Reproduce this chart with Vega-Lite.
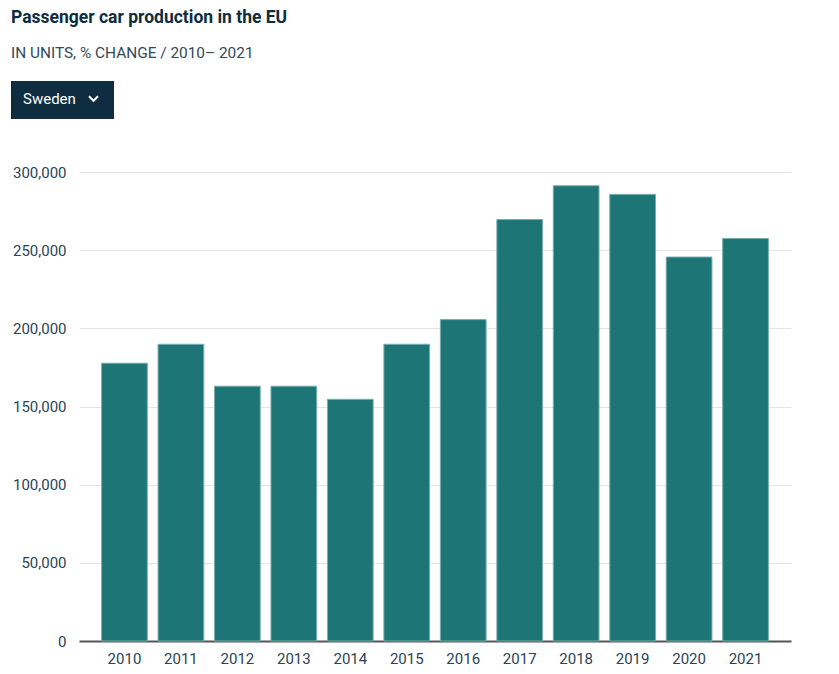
{
  "$schema": "https://vega.github.io/schema/vega-lite/v6.json",
  "width": 712,
  "height": 469,
  "autosize": {"type": "none"},
  "padding": {"left": 79, "top": 172, "right": 48, "bottom": 33},
  "background": "white",
  "config": {"view": {"stroke": null}},
  "title": {
    "text": "Passenger car production in the EU",
    "subtitle": "IN UNITS, % CHANGE / 2010– 2021",
    "anchor": "start",
    "frame": "bounds",
    "font": "Roboto",
    "fontSize": 17.5,
    "fontWeight": "bold",
    "color": "#0c2d40",
    "subtitleFont": "Roboto",
    "subtitleFontSize": 15.4,
    "subtitleColor": "#34495a",
    "subtitlePadding": 19,
    "offset": 20
  },
  "data": {
    "values": [
      {"year": "2010", "country": "Sweden", "units": 177700},
      {"year": "2011", "country": "Sweden", "units": 189800},
      {"year": "2012", "country": "Sweden", "units": 163000},
      {"year": "2013", "country": "Sweden", "units": 163000},
      {"year": "2014", "country": "Sweden", "units": 154600},
      {"year": "2015", "country": "Sweden", "units": 189800},
      {"year": "2016", "country": "Sweden", "units": 205600},
      {"year": "2017", "country": "Sweden", "units": 269600},
      {"year": "2018", "country": "Sweden", "units": 291200},
      {"year": "2019", "country": "Sweden", "units": 285700},
      {"year": "2020", "country": "Sweden", "units": 245600},
      {"year": "2021", "country": "Sweden", "units": 257500}
    ]
  },
  "mark": {"type": "bar", "stroke": "#7aaeae", "strokeWidth": 1},
  "encoding": {
    "x": {
      "field": "year",
      "type": "ordinal",
      "scale": {"paddingInner": 0.19, "paddingOuter": 0.4},
      "axis": {
        "title": null,
        "labelAngle": 0,
        "ticks": false,
        "domain": true,
        "domainColor": "#555555",
        "domainWidth": 2,
        "labelPadding": 10,
        "labelFont": "Roboto",
        "labelFontSize": 15,
        "labelColor": "#2b4456"
      }
    },
    "y": {
      "field": "units",
      "type": "quantitative",
      "scale": {"domain": [0, 300000], "nice": false},
      "axis": {
        "title": null,
        "values": [0, 50000, 100000, 150000, 200000, 250000, 300000],
        "format": ",d",
        "domain": false,
        "ticks": false,
        "grid": true,
        "gridColor": "#e5e5e5",
        "gridWidth": 1,
        "labelPadding": 13,
        "labelFont": "Roboto",
        "labelFontSize": 15,
        "labelColor": "#2b4456"
      }
    },
    "color": {
      "field": "country",
      "type": "nominal",
      "scale": {"range": ["#1d7575"]},
      "legend": {
        "orient": "none",
        "legendX": -68,
        "legendY": -91,
        "fillColor": "#0e2d40",
        "padding": 12,
        "title": "Sweden",
        "titleOrient": "left",
        "titleColor": "#ffffff",
        "titleFont": "Roboto",
        "titleFontSize": 15,
        "titleFontWeight": "normal",
        "titlePadding": 12,
        "titleBaseline": "middle",
        "symbolType": "M-1,-0.5L0,0.5L1,-0.5",
        "symbolSize": 81,
        "symbolStrokeWidth": 2,
        "symbolStrokeColor": "#ffffff",
        "symbolFillColor": "transparent",
        "labelExpr": "''",
        "labelOffset": 0,
        "encode": {
          "symbols": {
            "update": {
              "fill": {"value": "transparent"},
              "fillOpacity": {"value": 0},
              "stroke": {"value": "#ffffff"},
              "strokeWidth": {"value": 2},
              "opacity": {"value": 1}
            }
          }
        }
      }
    }
  }
}
